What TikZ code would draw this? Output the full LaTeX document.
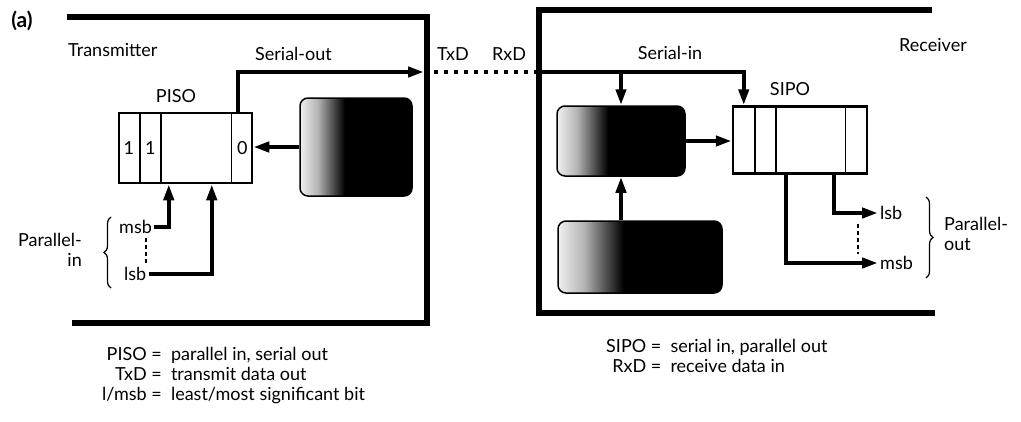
\documentclass[tikz,border=0pt]{standalone}
\usepackage{fontspec}
\setmainfont{Lato}
\usetikzlibrary{arrows.meta,decorations.pathreplacing}
\pgfdeclarehorizontalshading{blkshade}{100bp}{color(0bp)=(black!6); color(25bp)=(black!6); color(33bp)=(black!30); color(45bp)=(black); color(100bp)=(black)}
\begin{document}
\begin{tikzpicture}[x=1pt,y=1pt,
  every node/.style={inner sep=2pt, font=\fontsize{18}{20}\selectfont},
  tframe/.style={line width=6, line join=miter},
  sig/.style={line width=4, -{Triangle[length=16pt,width=10pt]}},
  dotline/.style={line width=4, dash pattern=on 4pt off 6pt},
  thindash/.style={line width=1.2, dash pattern=on 4pt off 3pt},
  regbox/.style={draw, line width=2.5},
  divider/.style={line width=1.5},
  blkbox/.style={draw, line width=1.5, rounded corners=8, shade, shading=blkshade},
  bracedec/.style={decorate, decoration={brace, amplitude=7pt}, line width=1.2}]
\useasboundingbox (0,0) rectangle (1021,-421);

% frames
\draw[tframe] (67,-17) -- (427,-17) -- (427,-323) -- (72,-323);
\draw[tframe] (932,-10) -- (539,-10) -- (539,-313) -- (935,-313);

\node[font=\fontsize{21}{22}\selectfont\bfseries] (alabel) at (22,-21) {(a)};
\node[anchor=west] (tx) at (66,-50) {Transmitter};
\node (rx) at (933,-45) {Receiver};

% ---------- transmitter ----------
\node[regbox, minimum width=133, minimum height=70] (piso) at (185.5,-148) {};
\draw[divider] ([xshift=22]piso.south west) -- ([xshift=22]piso.north west);
\draw[divider] ([xshift=43]piso.south west) -- ([xshift=43]piso.north west);
\draw[divider] ([xshift=-22]piso.south east) -- ([xshift=-22]piso.north east);
\node (p1) at ([xshift=11]piso.west) {1};
\node (p2) at ([xshift=32.5]piso.west) {1};
\node (p0) at ([xshift=-11]piso.east) {0};
\node (pisol) at (176,-96) {PISO};

\node[blkbox, minimum width=112, minimum height=98] (tblk) at (356,-147) {};
\draw[sig] (tblk.west) -- (tblk.west -| piso.east);

\coordinate (txd) at (424,-72);
\coordinate (rxd) at (537,-72);
\draw[sig] ([xshift=52.5]piso.north) |- (txd);
\node[anchor=south west] (sout) at (253,-63) {Serial-out};
\draw[dotline] (txd) -- (rxd);
\node[anchor=south] (txdl) at (453,-63) {TxD};
\node[anchor=south] (rxdl) at (509,-63) {RxD};

\node[anchor=west] (msbl) at (117,-227) {msb};
\node[anchor=west] (lsbl) at (122,-274) {lsb};
\draw[sig] (msbl.east) -| ([xshift=51]piso.south west);
\draw[sig] (lsbl.east) -| ([xshift=94]piso.south west);
\draw[thindash] (146,-238) -- (146,-264);
\draw[bracedec] (111,-288) -- (111,-217);
\node[anchor=east, align=right] (pin) at (84,-250) {Parallel-\\in};

% ---------- receiver ----------
\node[regbox, minimum width=134, minimum height=67] (sipo) at (800,-140) {};
\draw[divider] ([xshift=23]sipo.south west) -- ([xshift=23]sipo.north west);
\draw[divider] ([xshift=44]sipo.south west) -- ([xshift=44]sipo.north west);
\draw[divider] ([xshift=-23]sipo.south east) -- ([xshift=-23]sipo.north east);
\node (sipol) at (790,-89) {SIPO};

\node[blkbox, minimum width=128, minimum height=70] (rblk) at (621,-141) {};
\node[blkbox, minimum width=164, minimum height=72] (lblk) at (640,-257) {};

\draw[sig] (rxd) -| ([xshift=12]sipo.north west);
\draw[sig] (rblk.north |- rxd) -- (rblk.north);
\node[anchor=south] (sin) at (670,-62) {Serial-in};
\draw[sig] (rblk.east) -- (rblk.east -| sipo.west);
\draw[sig] (rblk.south |- lblk.north) -- (rblk.south);

\node[anchor=west] (lsbr) at (878,-213) {lsb};
\node[anchor=west] (msbr) at (878,-263) {msb};
\draw[sig] ([xshift=102]sipo.south west) |- (lsbr.west);
\draw[sig] ([xshift=54]sipo.south west) |- (msbr.west);
\draw[thindash] (858,-224) -- (858,-254);
\draw[bracedec] (926,-197) -- (926,-278);
\node[anchor=west, align=left] (pout) at (942,-234) {Parallel-\\out};

% ---------- legends ----------
\node[anchor=west] (legl) at (100,-376) {\begin{tabular}{@{}r@{\ =\ \ }l@{}}
PISO & parallel in, serial out\\
TxD & transmit data out\\
l/msb & least/most significant bit
\end{tabular}};
\node[anchor=west] (legr) at (604,-358) {\begin{tabular}{@{}r@{\ =\ \ }l@{}}
SIPO & serial in, parallel out\\
RxD & receive data in
\end{tabular}};
\end{tikzpicture}
\end{document}
